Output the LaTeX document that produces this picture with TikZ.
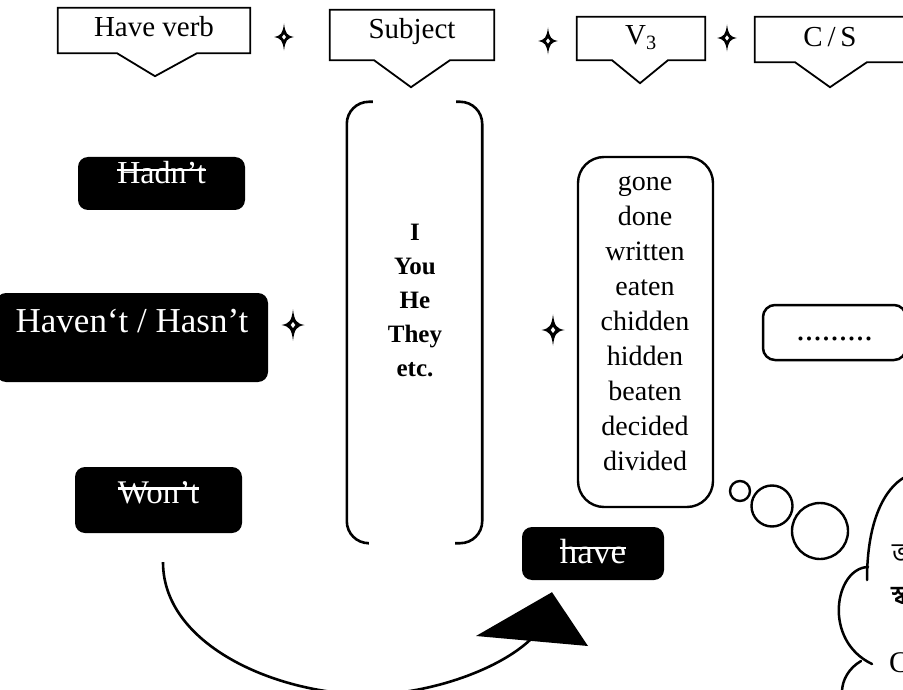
\documentclass[tikz,border=0pt]{standalone}
\usepackage{fontspec}
\setmainfont{Liberation Serif}
\newfontfamily\bnfont[Script=Bengali]{Hind Siliguri}
\usetikzlibrary{calc}
% struck-through word: a rule across the text at about two thirds of the cap height
\newcommand{\struck}[1]{\leavevmode\setbox0=\hbox{#1}\rlap{\rule[0.4em]{\wd0}{0.07em}}\box0}

\begin{document}
\begin{tikzpicture}[x=1pt,y=-1pt,
  hdrbox/.style={inner sep=0pt, font=\fontsize{29}{31}\selectfont},
  hdrline/.style={line width=1.8pt, line join=miter},
  blackbox/.style={fill=black, text=white, rounded corners=10pt, inner sep=0pt},
  bracket/.style={line width=2.6pt, rounded corners=22pt},
  listbox/.style={draw, line width=2.4pt, rounded corners=26pt, inner sep=0pt},
  bubble/.style={draw, circle, line width=2.4pt, inner sep=0pt},
  pics/plusstar/.style={code={
    \fill[black] (0,-13.5) .. controls (1.3,-3.5) and (3,-1.3) .. (10,0)
      .. controls (3,1.3) and (1.3,3.5) .. (0,13.5)
      .. controls (-1.3,3.5) and (-3,1.3) .. (-10,0)
      .. controls (-3,-1.3) and (-1.3,-3.5) .. cycle;
    \fill[white] (0,-2.6) -- (2,0) -- (0,2.6) -- (-2,0) -- cycle;
  }}
]
\useasboundingbox (0,0) rectangle (903,690);
\clip (0,0) rectangle (903,690);
\fill[white] (0,0) rectangle (903,690);

% ---------- header: Have verb + Subject + V3 + C/S ----------
\node[hdrbox, minimum width=192pt, minimum height=45pt, text height=29pt, text depth=16pt] (hv) at (154,30.5) {Have verb};
\draw[hdrline] (hv.south west) -- (hv.north west) -- (hv.north east) -- (hv.south east)
  -- ($(hv.south)+(43,0)$) -- ($(hv.south)+(1,23)$) -- ($(hv.south)+(-37,0)$) -- cycle;

\node[hdrbox, minimum width=164pt, minimum height=50pt, text height=29pt, text depth=21pt] (sb) at (412,35) {Subject};
\draw[hdrline] (sb.south west) -- (sb.north west) -- (sb.north east) -- (sb.south east)
  -- ($(sb.south)+(38,0)$) -- ($(sb.south)+(-1,27)$) -- ($(sb.south)+(-38,0)$) -- cycle;

\node[hdrbox, minimum width=128pt, minimum height=43pt, text height=28pt, text depth=15pt] (vt) at (641,38.5) {V\textsubscript{3}};
\draw[hdrline] (vt.south west) -- (vt.north west) -- (vt.north east) -- (vt.south east)
  -- ($(vt.south)+(27,0)$) -- ($(vt.south)+(-1,23)$) -- ($(vt.south)+(-29,0)$) -- cycle;

\node[hdrbox, minimum width=150pt, minimum height=45pt, text height=30pt, text depth=15pt] (cs) at (830,39.5) {C\,/\,S};
\draw[hdrline] (cs.south west) -- (cs.north west) -- (cs.north east) -- (cs.south east)
  -- ($(cs.south)+(37,0)$) -- ($(cs.south)+(0,25)$) -- ($(cs.south)+(-35,0)$) -- cycle;

\pic at (284,37) {plusstar};
\pic at (548,41) {plusstar};
\pic at (727,38) {plusstar};

% ---------- negative forms of the have verb ----------
\node[blackbox, minimum width=167pt, minimum height=53pt, text height=27pt, text depth=26pt,
      font=\fontsize{32}{34}\selectfont] (hadnt) at (161.5,183.5) {\struck{Hadn't}};
\node[blackbox, minimum width=272pt, minimum height=89pt, text height=39pt, text depth=50pt,
      font=\fontsize{35}{37}\selectfont] (havent) at (132,337.5) {Haven`t / Hasn't};
\node[blackbox, minimum width=167pt, minimum height=66pt, text height=36pt, text depth=30pt,
      font=\fontsize{33}{35}\selectfont] (wont) at (158.5,500) {\struck{Won't}};
\node[blackbox, minimum width=142pt, minimum height=53pt, text height=36pt, text depth=17pt,
      font=\fontsize{35}{37}\selectfont] (have) at (593,553.5) {\struck{have}};

\pic[scale=1.15] at (293,325) {plusstar};
\pic[scale=1.15] at (553,330) {plusstar};

% ---------- subject column, open bracket ----------
\node[minimum width=135pt, minimum height=441pt, inner sep=0pt] (subj) at (414.5,322.5) {};
\draw[bracket] ($(subj.north west)+(26,0)$) -- (subj.north west) -- (subj.south west) -- ($(subj.south west)+(21,0)$);
\draw[bracket] ($(subj.north east)+(-26,0)$) -- (subj.north east) -- (subj.south east) -- ($(subj.south east)+(-27,0)$);
\node[align=center, inner sep=0pt, font=\bfseries\fontsize{25}{34}\selectfont] (pron) at (415,300)
  {I\\You\\He\\They\\etc.};

% ---------- third forms ----------
\node[listbox, minimum width=135pt, minimum height=350pt] (v3box) at (645.5,332) {};
\node[align=center, inner sep=0pt, font=\fontsize{28}{35}\selectfont] (v3list) at (645,323)
  {gone\\done\\written\\eaten\\chidden\\hidden\\beaten\\decided\\divided};

% ---------- complement / subject slot ----------
\node[draw, line width=2.5pt, rounded corners=12pt, inner sep=0pt, minimum width=143pt, minimum height=55pt,
      text height=35pt, text depth=20pt, font=\fontsize{34}{36}\selectfont] (dots) at (834.5,332.5) {.........};

% ---------- thought bubble ----------
\node[bubble, minimum size=20pt] (b1) at (740,491) {};
\node[bubble, minimum size=41pt] (b2) at (772,506) {};
\node[bubble, minimum size=56pt] (b3) at (820,531) {};
\draw[line width=2.5pt, line cap=round] (905,477) .. controls (885,488) and (867,520) .. (867,580);
\draw[line width=2.5pt, line cap=round] (868,567) .. controls (835,568) and (822,640) .. (872,664);
\draw[line width=2.5pt, line cap=round] (861,661) .. controls (849,668) and (842,680) .. (842,692);
\node[anchor=west, inner sep=0pt, font=\bnfont\fontsize{26}{28}\selectfont] (t1) at (892,553) {ভ};
\node[anchor=west, inner sep=0pt, font=\bnfont\bfseries\fontsize{26}{28}\selectfont] (t2) at (891,596) {স্ব};
\node[anchor=west, inner sep=0pt, font=\fontsize{30}{32}\selectfont] (t3) at (889,663) {C};

% ---------- curved arrow from Won't up to have ----------
\coordinate (arrstart) at ($(wont.south)+(4.5,29)$);
\coordinate (arrbase) at (530,640);
\coordinate (arrtip) at ($(have.south)+(-41,12)$);
\draw[line width=2.6pt] (arrstart) .. controls (163,650) and (290,700) .. (385,694)
  .. controls (440,690) and (500,668) .. (arrbase);
\fill (476,636) -- (arrtip) -- (588,646) -- cycle;
\end{tikzpicture}
\end{document}
